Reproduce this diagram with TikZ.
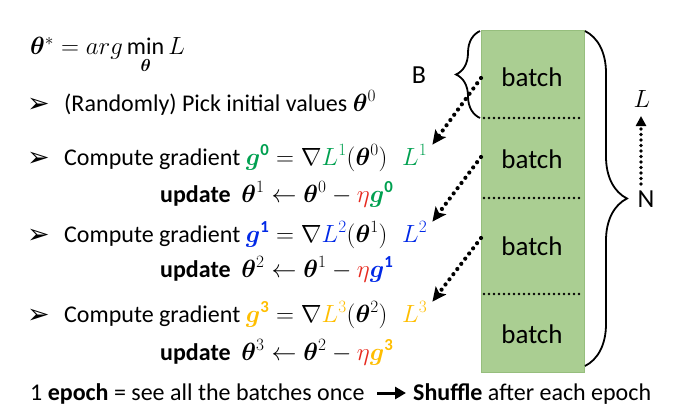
\documentclass[tikz,border=0pt]{standalone}
\usepackage{amsmath,bm}
\usepackage{fontspec}
\setmainfont{Carlito}
\newfontfamily\dejavu{DejaVu Sans}
\usetikzlibrary{decorations.pathreplacing,arrows.meta}
\definecolor{ggreen}{RGB}{0,160,80}
\definecolor{gblue}{RGB}{0,40,230}
\definecolor{gyellow}{RGB}{255,190,0}
\definecolor{gred}{RGB}{230,40,30}
\definecolor{colfill}{RGB}{170,206,146}
\definecolor{coledge}{RGB}{150,190,125}
\newcommand{\bth}{\bm{\theta}}
\begin{document}
\begin{tikzpicture}[x=1pt,y=-1pt,
  txt/.style={anchor=base west,inner sep=0pt,font=\fontsize{24}{28}\selectfont},
  bul/.style={anchor=base west,inner sep=0pt,font=\dejavu\fontsize{27}{30}\selectfont},
  batchlbl/.style={inner sep=0pt,font=\fontsize{27}{30}\selectfont},
  sep/.style={line width=2.8pt,dash pattern=on 0pt off 5pt,line cap=round},
  dotarrow/.style={line width=4.2pt,dash pattern=on 0pt off 6.5pt,line cap=round,
    -{Stealth[length=14pt,width=13pt,inset=3pt]}},
  brc/.style={decorate,line width=1.8pt}]
\useasboundingbox (0,0) rectangle (688,412);
% column
\node[draw=coledge,fill=colfill,minimum width=103pt,minimum height=342pt,inner sep=0pt,anchor=north west] (col) at (481,30) {};
\coordinate (s1l) at (484,118); \coordinate (s1r) at (582,118);
\coordinate (s2l) at (484,198); \coordinate (s2r) at (582,198);
\coordinate (s3l) at (484,294); \coordinate (s3r) at (582,294);
\draw[sep] (s1l) -- (s1r);
\draw[sep] (s2l) -- (s2r);
\draw[sep] (s3l) -- (s3r);
\node[batchlbl] (bt1) at (532,77) {batch};
\node[batchlbl] (bt2) at (532,159) {batch};
\node[batchlbl] (bt3) at (532,246) {batch};
\node[batchlbl] (bt4) at (532,334) {batch};
% braces
\coordinate (bB) at (480,118); \coordinate (tB) at (480,31);
\draw[brc,decoration={brace,amplitude=24pt,raise=0pt}] (bB) -- (tB);
\node[batchlbl,font=\fontsize{26}{30}\selectfont] (B) at (419,75) {B};
\coordinate (tN) at (585,31); \coordinate (bN) at (585,366);
\draw[brc,decoration={brace,amplitude=42pt}] (tN) -- (bN);
\node[batchlbl,font=\fontsize{26}{30}\selectfont] (N) at (646,199) {N};
% L arrow
\node[inner sep=0pt,font=\fontsize{24}{28}\selectfont] (Lr) at (642,99) {$L$};
\coordinate (Lb) at (641,184); \coordinate (Lt) at (641,116);
\draw[dotarrow,line width=3.6pt,dash pattern=on 0pt off 5.5pt,-{Triangle[length=10pt,width=10pt]}] (Lb) -- (Lt);
% text
\node[txt] (t0) at (30,55) {$\bth^{*} = arg\min\limits_{\bth} L$};
\node[bul] (u1) at (27,112) {➢};
\node[txt] (t1) at (64,111) {(Randomly) Pick initial values $\bth^{0}$};
\node[bul] (u2) at (27,166) {➢};
\node[txt] (t2) at (64,165) {Compute gradient $\color{ggreen}\bm{g}^{\mathbf{0}}\color{black} = \nabla {\color{ggreen}L^{1}}(\bth^{0})$};
\node[txt] (l1) at (402,165) {$\color{ggreen}L^{1}$};
\node[txt] (t3) at (160,202) {\textbf{update}\ \ $\bth^{1} \leftarrow \bth^{0} - {\color{gred}\eta}{\color{ggreen}\bm{g}^{\mathbf{0}}}$};
\node[bul] (u3) at (27,243) {➢};
\node[txt] (t4) at (64,242) {Compute gradient $\color{gblue}\bm{g}^{\mathbf{1}}\color{black} = \nabla {\color{gblue}L^{2}}(\bth^{1})$};
\node[txt] (l2) at (402,242) {$\color{gblue}L^{2}$};
\node[txt] (t5) at (160,277) {\textbf{update}\ \ $\bth^{2} \leftarrow \bth^{1} - {\color{gred}\eta}{\color{gblue}\bm{g}^{\mathbf{1}}}$};
\node[bul] (u4) at (27,323) {➢};
\node[txt] (t6) at (64,322) {Compute gradient $\color{gyellow}\bm{g}^{\mathbf{3}}\color{black} = \nabla {\color{gyellow}L^{3}}(\bth^{2})$};
\node[txt] (l3) at (402,322) {$\color{gyellow}L^{3}$};
\node[txt] (t7) at (160,360) {\textbf{update}\ \ $\bth^{3} \leftarrow \bth^{2} - {\color{gred}\eta}{\color{gyellow}\bm{g}^{\mathbf{3}}}$};
\node[txt] (t8) at (30,400) {1 \textbf{epoch} = see all the batches once};
\node[txt] (t9) at (413,400) {\textbf{Shuffle} after each epoch};
\coordinate (ea) at (377,393); \coordinate (eb) at (406,393);
\draw[line width=3pt,-{Triangle[length=11pt,width=12pt]}] (ea) -- (eb);
% dotted arrows
\coordinate (a1) at (481,78);
\coordinate (a2) at (481,157);
\coordinate (a3) at (481,238);
\draw[dotarrow] (a1) -- ([xshift=5pt,yshift=0pt]l1.north east);
\draw[dotarrow] (a2) -- ([xshift=5pt,yshift=0pt]l2.north east);
\draw[dotarrow] (a3) -- ([xshift=5pt,yshift=0pt]l3.north east);
\end{tikzpicture}
\end{document}
